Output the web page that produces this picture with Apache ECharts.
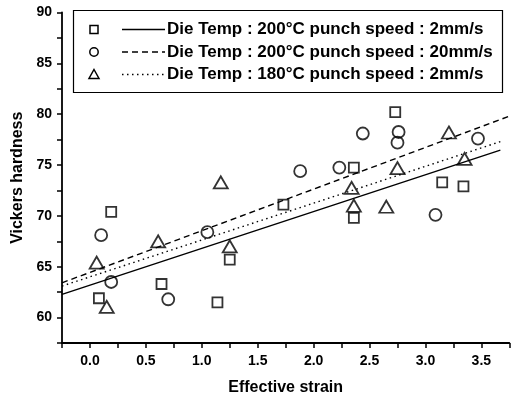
<!DOCTYPE html>
<html>
<head>
<meta charset="utf-8">
<script src="https://cdn.jsdelivr.net/npm/echarts@6/dist/echarts.min.js"></script>
<style>html,body{margin:0;padding:0;background:#fff}#c{width:511px;height:401px}</style>
</head>
<body>
<div id="c"></div>
<script>
// ---- data ----
const seriesNames = [
  'Die Temp : 200°C punch speed : 2mm/s',
  'Die Temp : 200°C punch speed : 20mm/s',
  'Die Temp : 180°C punch speed : 2mm/s'
];
const squares200_2 = [[0.08,61.9],[0.19,70.4],[0.64,63.3],[1.14,61.5],[1.25,65.7],[1.73,71.1],[2.36,69.8],[2.36,74.75],[2.73,80.2],[3.15,73.3],[3.34,72.9]];
const circles200_20 = [[0.10,68.1],[0.19,63.5],[0.70,61.8],[1.05,68.4],[1.88,74.4],[2.23,74.75],[2.44,78.1],[2.75,77.2],[2.76,78.25],[3.09,70.1],[3.47,77.6]];
const triangles180_2 = [[0.06,65.4],[0.15,61.05],[0.61,67.5],[1.17,73.3],[1.25,67.0],[2.34,72.75],[2.36,71.0],[2.65,70.9],[2.75,74.7],[3.21,78.2],[3.35,75.6]];
const fit200_2 = [[-0.25,62.28],[3.67,76.47]];
const fit200_20 = [[-0.25,63.42],[3.75,79.8]];
const fit180_2 = [[-0.25,63.1],[3.67,77.3]];
const xLabels = [0,0.5,1,1.5,2,2.5,3,3.5];
const xTicks = [-0.25,0,0.25,0.5,0.75,1,1.25,1.5,1.75,2,2.25,2.5,2.75,3,3.25,3.5,3.75];
const yLabels = [60,65,70,75,80,85,90];
const yTicks = [57.5,60,62.5,65,67.5,70,72.5,75,77.5,80,82.5,85,87.5,90];

const FONT = '"Liberation Sans", Arial, sans-serif';
const chart = echarts.init(document.getElementById('c'), null, {renderer:'canvas'});

const scatterSymbols = ['rect','circle','triangle'];
const scatterSizes = [[10,10],[12,12],[14,12]];
const lineTypes = ['solid',[6,4],[1.5,3.5]];
const scatterData = [squares200_2, circles200_20, triangles180_2];
const fitData = [fit200_2, fit200_20, fit180_2];

const series = [];
for (let i = 0; i < 3; i++) {
  series.push({
    type:'scatter', name: seriesNames[i], data: scatterData[i],
    symbol: scatterSymbols[i], symbolSize: scatterSizes[i],
    itemStyle:{color:'rgba(255,255,255,0)', borderColor:'#000', borderWidth:1.8},
    z: 3
  });
  series.push({
    type:'line', name: seriesNames[i] + ' fit', data: fitData[i],
    showSymbol:false, symbol:'none',
    lineStyle:{color:'#000', width:1.4, type: lineTypes[i]},
    z: 2, silent:true
  });
}

// legend drawn as graphic elements
const legendRows = [29.5, 52, 74.5];
const legendGraphics = [{
  type:'rect', shape:{x:73.5, y:10.5, width:429, height:82},
  style:{fill:'#fff', stroke:'#000', lineWidth:1.2}, z:10
}];
const legendSym = [
  (y)=>({type:'rect', shape:{x:90, y:y-4, width:8, height:8}}),
  (y)=>({type:'circle', shape:{cx:94, cy:y, r:4.2}}),
  (y)=>({type:'polygon', shape:{points:[[94,y-5],[99,y+4],[89,y+4]]}})
];
for (let i = 0; i < 3; i++) {
  const y = legendRows[i];
  const s = legendSym[i](y);
  s.style = {fill:'none', stroke:'#000', lineWidth:1.5}; s.z = 11;
  legendGraphics.push(s);
  const lt = lineTypes[i];
  legendGraphics.push({
    type:'line', shape:{x1:122, y1:y, x2:165, y2:y},
    style:{stroke:'#000', lineWidth:1.4, lineDash: lt === 'solid' ? null : lt}, z:11
  });
  legendGraphics.push({
    type:'text', x:167, y:y,
    style:{text: seriesNames[i], fill:'#000', font:'bold 17px ' + FONT, textVerticalAlign:'middle', textAlign:'left'},
    z:11
  });
}

chart.setOption({
  animation:false,
  backgroundColor:'#fff',
  grid:{left:62, right:1.7, top:12.5, bottom:56, containLabel:false},
  xAxis:{
    type:'value', min:-0.25, max:3.75,
    axisLine:{show:true, onZero:false, lineStyle:{color:'#000', width:1.8}},
    axisTick:{show:true, customValues:xTicks, length:5, lineStyle:{color:'#000', width:1.5}},
    axisLabel:{customValues:xLabels, margin:11, formatter:(v)=>v.toFixed(1),
      color:'#000', fontFamily:FONT, fontWeight:'bold', fontSize:14},
    splitLine:{show:false},
    name:'Effective strain', nameLocation:'middle', nameGap:37,
    nameTextStyle:{color:'#000', fontFamily:FONT, fontWeight:'bold', fontSize:16}
  },
  yAxis:{
    type:'value', min:57.5, max:90,
    axisLine:{show:true, onZero:false, lineStyle:{color:'#000', width:1.8}},
    axisTick:{show:true, customValues:yTicks, length:5, lineStyle:{color:'#000', width:1.5}},
    axisLabel:{customValues:yLabels, margin:10,
      color:'#000', fontFamily:FONT, fontWeight:'bold', fontSize:14},
    splitLine:{show:false},
    name:'Vickers hardness', nameLocation:'middle', nameGap:35, nameRotate:90,
    nameTextStyle:{color:'#000', fontFamily:FONT, fontWeight:'bold', fontSize:16}
  },
  series: series,
  graphic: legendGraphics
});
</script>
</body>
</html>
